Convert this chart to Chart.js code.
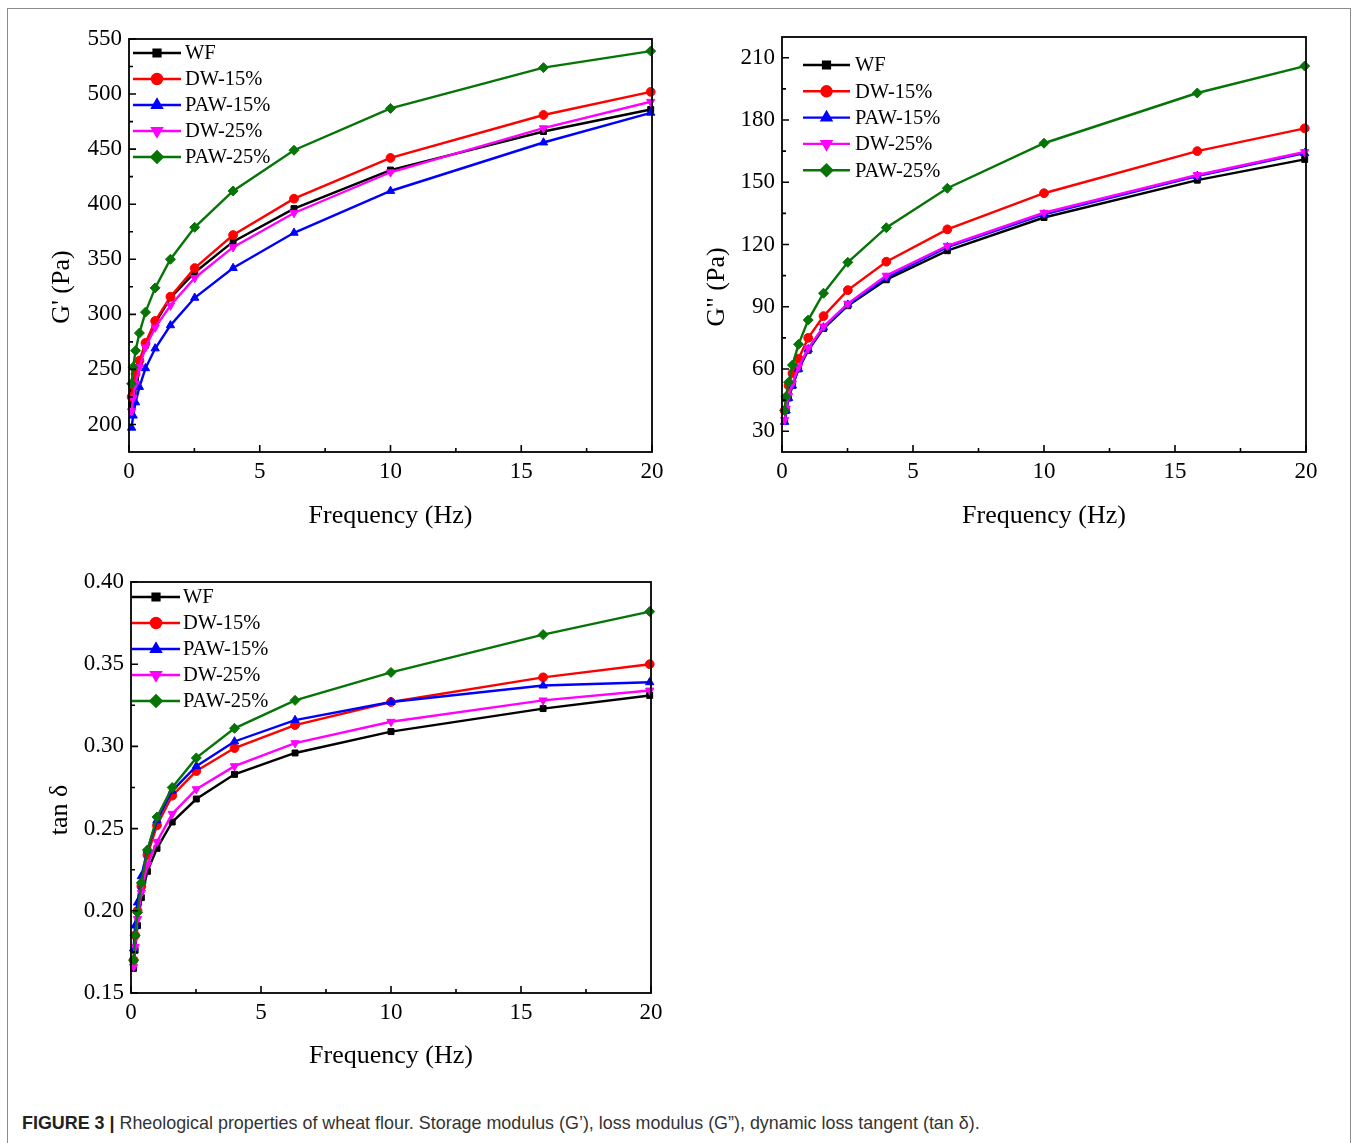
<!DOCTYPE html>
<html><head><meta charset="utf-8">
<script src="https://cdn.jsdelivr.net/npm/chart.js@4/dist/chart.umd.min.js"></script>
<style>
html,body{margin:0;padding:0;background:#fff;}
body{width:1358px;height:1143px;position:relative;overflow:hidden;}
#frame{position:absolute;left:7px;top:8px;width:1344px;height:1150px;border:1px solid #8c8c8c;box-sizing:border-box;}
canvas{position:absolute;}
#cap{position:absolute;left:22px;top:1113px;font-family:"Liberation Sans",Arial,sans-serif;font-size:17.9px;color:#333;white-space:nowrap;}
#cap b{color:#222;}
</style></head><body>
<div id="frame"></div>
<canvas id="c1" width="680" height="545" style="left:0px;top:0px"></canvas>
<canvas id="c2" width="670" height="545" style="left:680px;top:0px"></canvas>
<canvas id="c3" width="680" height="540" style="left:0px;top:545px"></canvas>
<div id="cap"><b>FIGURE 3 |</b> Rheological properties of wheat flour. Storage modulus (G’), loss modulus (G”), dynamic loss tangent (tan δ).</div>
<script>
// ---------- data ----------
const frequency = [0.1, 0.158, 0.251, 0.398, 0.631, 1, 1.585, 2.512, 3.981, 6.31, 10, 15.85, 19.95];
const seriesNames = ['WF', 'DW-15%', 'PAW-15%', 'DW-25%', 'PAW-25%'];

const gPrime_WF     = [218, 230, 242, 256, 272, 292, 315, 338, 366, 396, 431, 466, 486];
const gPrime_DW15   = [225, 236, 246, 258, 274, 294, 316, 342, 372, 405, 442, 481, 502];
const gPrime_PAW15  = [197, 208, 220, 234, 251, 269, 290, 315, 342, 374, 412, 456, 483];
const gPrime_DW25   = [212, 224, 237, 252, 270, 288, 308, 333, 361, 392, 429, 469, 493];
const gPrime_PAW25  = [237, 252, 267, 283, 302, 324, 350, 379, 412, 449, 487, 524, 539];

const gDouble_WF    = [35, 40, 46, 52, 60, 69, 79.5, 90.5, 103, 117, 133, 151, 161];
const gDouble_DW15  = [40, 46, 52, 58, 65, 75, 85.5, 98, 111.7, 127.3, 144.7, 165, 176];
const gDouble_PAW15 = [34.5, 40, 46, 52, 60, 69.5, 80, 91, 104, 118.7, 134.5, 153, 164];
const gDouble_DW25  = [35.5, 41, 47, 53, 61, 70, 80.5, 91.5, 105, 119.4, 135.3, 153.5, 164.6];
const gDouble_PAW25 = [40, 46.7, 53.6, 61.9, 71.9, 83.6, 96.5, 111.4, 128.1, 147.1, 168.8, 193, 206];

const tan_WF    = [0.165, 0.176, 0.191, 0.208, 0.224, 0.238, 0.254, 0.268, 0.283, 0.296, 0.309, 0.323, 0.331];
const tan_DW15  = [0.170, 0.185, 0.200, 0.215, 0.234, 0.252, 0.270, 0.285, 0.299, 0.313, 0.327, 0.342, 0.350];
const tan_PAW15 = [0.177, 0.191, 0.205, 0.221, 0.237, 0.255, 0.273, 0.288, 0.303, 0.316, 0.327, 0.337, 0.339];
const tan_DW25  = [0.166, 0.178, 0.195, 0.211, 0.228, 0.242, 0.259, 0.274, 0.288, 0.302, 0.315, 0.328, 0.334];
const tan_PAW25 = [0.170, 0.185, 0.199, 0.217, 0.237, 0.257, 0.275, 0.293, 0.311, 0.328, 0.345, 0.368, 0.382];

const freqTicks = [0, 5, 10, 15, 20];
const gPrimeTicks = [200, 250, 300, 350, 400, 450, 500, 550];
const gDoubleTicks = [30, 60, 90, 120, 150, 180, 210];
const tanTicks = [0.15, 0.20, 0.25, 0.30, 0.35, 0.40];

// ---------- styles ----------
const colors = ['#000000', '#ff0000', '#0000ff', '#ff00ff', '#067406'];
const markers = ['rect', 'circle', 'triangle', 'triangle', 'rectRot'];
const markerRot = [0, 0, 0, 180, 0];
const markerRad = [4.2, 4.4, 4.8, 4.8, 5];
const SERIF = '"Liberation Serif","Times New Roman",serif';

function frameAndTicks(cfg) {
  return {
    id: 'frameTicks',
    afterDatasetsDraw(chart) {
      const ctx = chart.ctx, a = chart.chartArea;
      const xs = chart.scales.x, ys = chart.scales.y;
      ctx.save();
      ctx.strokeStyle = '#000';
      ctx.lineWidth = 1.6;
      const xt = cfg.xTicks, yt = cfg.yTicks;
      ctx.beginPath();
      xt.forEach((v, i) => {
        const px = xs.getPixelForValue(v);
        ctx.moveTo(px, a.bottom); ctx.lineTo(px, a.bottom - 7);
        if (i < xt.length - 1) {
          const mx = xs.getPixelForValue((v + xt[i + 1]) / 2);
          ctx.moveTo(mx, a.bottom); ctx.lineTo(mx, a.bottom - 4);
        }
      });
      yt.forEach((v, i) => {
        const py = ys.getPixelForValue(v);
        ctx.moveTo(a.left, py); ctx.lineTo(a.left + 7, py);
        if (i < yt.length - 1) {
          const my = ys.getPixelForValue((v + yt[i + 1]) / 2);
          ctx.moveTo(a.left, my); ctx.lineTo(a.left + 4, my);
        }
      });
      ctx.stroke();
      ctx.lineWidth = 1.8;
      ctx.strokeRect(a.left, a.top, a.right - a.left, a.bottom - a.top);
      // legend
      const L = cfg.legend;
      ctx.font = '20.5px ' + SERIF;
      ctx.textBaseline = 'middle';
      ctx.textAlign = 'left';
      chart.data.datasets.forEach((ds, i) => {
        const y = L.y0 + i * L.dy;
        ctx.strokeStyle = ds.borderColor;
        ctx.fillStyle = ds.borderColor;
        ctx.lineWidth = 2.4;
        ctx.beginPath(); ctx.moveTo(L.x0, y); ctx.lineTo(L.x1, y); ctx.stroke();
        Chart.helpers.drawPoint(ctx, {pointStyle: ds.pointStyle, rotation: ds.pointRotation, radius: ds.pointRadius + 0.6, borderWidth: 1}, (L.x0 + L.x1) / 2, y);
        ctx.fillStyle = '#000';
        ctx.fillText(ds.label, L.tx, y + 1);
      });
      // y-axis title
      ctx.save();
      ctx.translate(cfg.yTitle.x, cfg.yTitle.y);
      ctx.rotate(-Math.PI / 2);
      ctx.font = '26px ' + SERIF;
      ctx.textAlign = 'center';
      ctx.textBaseline = 'middle';
      ctx.fillStyle = '#000';
      ctx.fillText(cfg.yTitle.text, 0, 0);
      ctx.restore();
      ctx.restore();
    }
  };
}

function makeChart(id, seriesData, cfg) {
  const canvas = document.getElementById(id);
  const datasets = seriesData.map((vals, i) => ({
    label: seriesNames[i],
    data: frequency.map((f, k) => ({x: f, y: vals[k]})),
    borderColor: colors[i],
    backgroundColor: colors[i],
    borderWidth: 2.4,
    pointStyle: markers[i],
    pointRotation: markerRot[i],
    pointRadius: markerRad[i],
    pointBorderWidth: 1,
    pointBackgroundColor: colors[i],
    pointBorderColor: colors[i],
    tension: 0,
    clip: false,
    order: seriesNames.length - i
  }));
  return new Chart(canvas, {
    type: 'line',
    data: {datasets},
    options: {
      responsive: false,
      animation: false,
      devicePixelRatio: 1,
      layout: {padding: {top: cfg.area.top, right: canvas.width - cfg.area.right, left: 0, bottom: 0}},
      plugins: {legend: {display: false}, tooltip: {enabled: false}},
      scales: {
        x: {
          type: 'linear', min: 0, max: 20,
          afterBuildTicks: s => { s.ticks = cfg.xTicks.map(v => ({value: v})); },
          afterFit: s => { s.height = canvas.height - cfg.area.bottom; },
          grid: {display: false, drawTicks: false},
          border: {display: false},
          ticks: {padding: 6, color: '#000', font: {family: SERIF, size: 23}, maxRotation: 0, autoSkip: false},
          title: {display: true, text: 'Frequency (Hz)', color: '#000', font: {family: SERIF, size: 26}, padding: {top: 0, bottom: 13}}
        },
        y: {
          type: 'linear', min: cfg.yMin, max: cfg.yMax,
          afterBuildTicks: s => { s.ticks = cfg.yTicks.map(v => ({value: v})); },
          afterFit: s => { s.width = cfg.area.left; },
          grid: {display: false, drawTicks: false},
          border: {display: false},
          ticks: {padding: 7, color: '#000', font: {family: SERIF, size: 23}, autoSkip: false,
                  callback: v => cfg.fmt(v)}
        }
      }
    },
    plugins: [frameAndTicks(cfg)]
  });
}

makeChart('c1', [gPrime_WF, gPrime_DW15, gPrime_PAW15, gPrime_DW25, gPrime_PAW25], {
  area: {left: 129, top: 39, right: 652, bottom: 452},
  yMin: 175, yMax: 550, yTicks: gPrimeTicks, xTicks: freqTicks,
  fmt: v => String(v),
  legend: {x0: 133, x1: 181, tx: 185, y0: 53, dy: 26},
  yTitle: {x: 62, y: 287, text: "G' (Pa)"}
});
makeChart('c2', [gDouble_WF, gDouble_DW15, gDouble_PAW15, gDouble_DW25, gDouble_PAW25], {
  area: {left: 102, top: 37, right: 626, bottom: 452},
  yMin: 20, yMax: 220, yTicks: gDoubleTicks, xTicks: freqTicks,
  fmt: v => String(v),
  legend: {x0: 123, x1: 170, tx: 175, y0: 65, dy: 26.3},
  yTitle: {x: 37, y: 287, text: 'G" (Pa)'}
});
makeChart('c3', [tan_WF, tan_DW15, tan_PAW15, tan_DW25, tan_PAW25], {
  area: {left: 131, top: 37, right: 651, bottom: 448},
  yMin: 0.15, yMax: 0.40, yTicks: tanTicks, xTicks: freqTicks,
  fmt: v => v.toFixed(2),
  legend: {x0: 132, x1: 180, tx: 183, y0: 52, dy: 26},
  yTitle: {x: 60, y: 265, text: 'tan δ'}
});
</script>
</body></html>
